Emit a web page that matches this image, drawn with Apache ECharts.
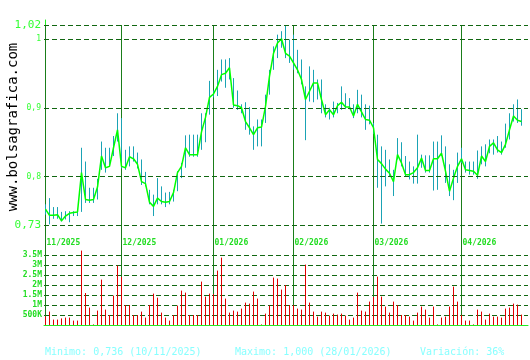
<!DOCTYPE html>
<html><head><meta charset="utf-8">
<script src="https://cdn.jsdelivr.net/npm/echarts@6/dist/echarts.min.js"></script>
<style>html,body{margin:0;padding:0;background:#fff}#c{width:530px;height:360px}</style>
</head><body><div id="c"></div>
<script>
const dates = [
'04/11/2025','05/11/2025','06/11/2025','07/11/2025','10/11/2025','11/11/2025','12/11/2025','13/11/2025','14/11/2025','17/11/2025',
'18/11/2025','19/11/2025','20/11/2025','21/11/2025','24/11/2025','25/11/2025','26/11/2025','27/11/2025','28/11/2025',
'01/12/2025','02/12/2025','03/12/2025','04/12/2025','05/12/2025','08/12/2025','09/12/2025','10/12/2025','11/12/2025','12/12/2025',
'15/12/2025','16/12/2025','17/12/2025','18/12/2025','19/12/2025','22/12/2025','23/12/2025','24/12/2025','25/12/2025','26/12/2025',
'29/12/2025','30/12/2025','31/12/2025',
'02/01/2026','05/01/2026','07/01/2026','08/01/2026','09/01/2026','12/01/2026','13/01/2026','14/01/2026','15/01/2026','16/01/2026',
'19/01/2026','20/01/2026','21/01/2026','22/01/2026','23/01/2026','26/01/2026','27/01/2026','28/01/2026','29/01/2026','30/01/2026',
'02/02/2026','03/02/2026','04/02/2026','05/02/2026','06/02/2026','09/02/2026','10/02/2026','11/02/2026','12/02/2026','13/02/2026',
'16/02/2026','17/02/2026','18/02/2026','19/02/2026','20/02/2026','23/02/2026','24/02/2026','25/02/2026','26/02/2026','27/02/2026',
'02/03/2026','03/03/2026','04/03/2026','05/03/2026','06/03/2026','09/03/2026','10/03/2026','11/03/2026','12/03/2026','13/03/2026',
'16/03/2026','17/03/2026','18/03/2026','19/03/2026','20/03/2026','23/03/2026','24/03/2026','25/03/2026','26/03/2026','27/03/2026',
'30/03/2026','31/03/2026',
'01/04/2026','02/04/2026','06/04/2026','07/04/2026','08/04/2026','09/04/2026','10/04/2026','13/04/2026','14/04/2026','15/04/2026',
'16/04/2026','17/04/2026','20/04/2026','21/04/2026','22/04/2026','23/04/2026'
];
const closes = [
0.753,0.744,0.744,0.745,0.736,0.743,0.747,0.748,0.749,0.806,
0.767,0.766,0.767,0.785,0.830,0.813,0.815,0.842,0.868,0.815,
0.813,0.829,0.826,0.818,0.793,0.790,0.763,0.757,0.769,0.764,
0.763,0.764,0.777,0.806,0.815,0.842,0.832,0.832,0.832,0.865,
0.886,0.915,0.920,0.931,0.948,0.950,0.958,0.904,0.903,0.900,
0.880,0.871,0.861,0.871,0.872,0.902,0.946,0.979,0.994,1.000,
0.979,0.975,0.965,0.955,0.941,0.912,0.924,0.936,0.936,0.912,
0.890,0.897,0.890,0.903,0.908,0.901,0.901,0.888,0.905,0.894,
0.883,0.882,0.871,0.825,0.819,0.811,0.805,0.793,0.832,0.820,
0.803,0.803,0.806,0.813,0.827,0.809,0.809,0.826,0.826,0.834,
0.808,0.779,0.798,0.815,0.826,0.810,0.809,0.808,0.802,0.830,
0.822,0.844,0.849,0.839,0.835,0.847,0.868,0.888,0.882,0.880
];
const highs = [
0.760,0.769,0.756,0.756,0.749,0.750,0.750,0.750,0.750,0.842,
0.822,0.784,0.784,0.797,0.851,0.842,0.842,0.859,0.892,0.885,
0.839,0.844,0.844,0.835,0.825,0.807,0.781,0.774,0.798,0.786,
0.777,0.778,0.781,0.808,0.820,0.860,0.861,0.861,0.861,0.892,
0.892,0.939,0.925,0.955,0.970,0.970,0.972,0.943,0.925,0.905,
0.908,0.901,0.873,0.883,0.883,0.919,0.955,0.989,1.006,1.011,
1.020,0.999,1.006,0.984,0.970,0.931,0.960,0.955,0.941,0.941,
0.905,0.900,0.909,0.907,0.931,0.921,0.914,0.905,0.926,0.919,
0.905,0.903,0.878,0.861,0.844,0.839,0.825,0.810,0.856,0.850,
0.830,0.822,0.815,0.861,0.832,0.831,0.831,0.851,0.851,0.860,
0.844,0.818,0.810,0.835,0.842,0.822,0.822,0.822,0.838,0.844,
0.847,0.854,0.854,0.859,0.851,0.877,0.892,0.905,0.912,0.898
];
const lows = [
0.745,0.731,0.739,0.739,0.735,0.738,0.734,0.743,0.743,0.749,
0.762,0.762,0.762,0.767,0.810,0.806,0.815,0.830,0.851,0.812,
0.810,0.815,0.822,0.812,0.788,0.786,0.760,0.743,0.760,0.760,
0.756,0.760,0.764,0.779,0.798,0.813,0.829,0.829,0.829,0.839,
0.850,0.890,0.915,0.917,0.938,0.929,0.941,0.900,0.897,0.892,
0.868,0.861,0.839,0.844,0.844,0.878,0.919,0.955,0.972,0.987,
0.972,0.965,0.955,0.950,0.934,0.853,0.909,0.908,0.912,0.892,
0.886,0.883,0.886,0.892,0.897,0.898,0.898,0.885,0.892,0.886,
0.868,0.876,0.862,0.784,0.732,0.786,0.800,0.772,0.825,0.815,
0.800,0.796,0.790,0.790,0.813,0.806,0.806,0.780,0.781,0.830,
0.791,0.772,0.766,0.791,0.820,0.806,0.803,0.803,0.797,0.818,
0.815,0.834,0.832,0.835,0.832,0.842,0.854,0.880,0.878,0.874
];
// volume in millions of shares
const volumes = [
0.43,0.67,0.27,0.27,0.33,0.37,0.37,0.22,0.22,3.72,
1.60,0.87,0.03,0.72,2.27,0.77,0.50,1.47,2.97,2.40,
1.00,1.00,0.50,0.50,0.67,0.37,1.00,1.57,1.37,0.62,
0.37,0.22,0.50,0.97,1.72,1.62,0.50,0.50,0.50,2.17,
1.42,1.57,1.55,2.72,3.37,1.32,0.62,0.72,0.67,0.82,
1.12,1.07,1.67,1.32,0.03,0.57,0.97,2.37,2.32,1.77,
2.00,1.00,1.00,0.82,0.77,3.02,1.12,0.67,0.42,0.67,
0.62,0.47,0.57,0.52,0.57,0.47,0.27,0.37,1.62,0.72,
0.67,1.17,1.40,2.42,1.42,0.92,0.62,1.17,1.00,0.50,
0.50,0.42,0.22,0.62,0.92,0.77,0.37,0.92,0.03,0.37,
0.42,0.92,1.92,1.17,0.50,0.22,0.22,0.03,0.77,0.67,
0.27,0.57,0.42,0.42,0.37,0.82,0.87,1.07,1.02,0.52
];
const priceTicks = [0.73, 0.8, 0.9, 1, 1.02];
const priceTickLabels = ['0,73', '0,8', '0,9', '1', '1,02'];
const bigTicks = [0.73, 1.02];
const volumeTicks = [0.5, 1, 1.5, 2, 2.5, 3, 3.5];
const volumeTickLabels = ['500K', '1M', '1.5M', '2M', '2.5M', '3M', '3.5M'];
const statTexts = ['Minimo: 0,736 (10/11/2025)', 'Maximo: 1,000 (28/01/2026)', 'Variación: 36%'];
const watermark = 'www.bolsagrafica.com';

// month starts derived from dates
const monthStarts = [];
dates.forEach((d, i) => {
  const m = d.slice(3);
  if (i === 0 || dates[i - 1].slice(3) !== m) monthStarts.push({ idx: i, label: m });
});

const MONO = '"DejaVu Sans Mono", "Liberation Mono", monospace';
const GREEN = '#22ee22';
const LABEL_GREEN = '#22dd22';
const DASH = '#116611';
const SEP = '#1a7d1a';
const XMIN = -0.375, XMAX = 120.625;

const chart = echarts.init(document.getElementById('c'), null, { renderer: 'canvas' });
const xBase = { type: 'value', min: XMIN, max: XMAX, show: false };

chart.setOption({
  animation: false,
  backgroundColor: '#ffffff',
  grid: [
    { left: 44, right: 2, top: 20, height: 210 },
    { left: 44, right: 2, top: 255, height: 70 },
    { left: 44, right: 2, top: 25, height: 300 }
  ],
  xAxis: [
    Object.assign({ gridIndex: 0 }, xBase),
    { gridIndex: 1, type: 'value', min: XMIN, max: XMAX, show: true,
      axisLine: { show: true, onZero: false, lineStyle: { color: GREEN, width: 1 } },
      axisTick: { show: false }, axisLabel: { show: false }, splitLine: { show: false } },
    Object.assign({ gridIndex: 2 }, xBase)
  ],
  yAxis: [
    { gridIndex: 0, type: 'value', min: 0.72275, max: 1.02725,
      axisLine: { show: true, lineStyle: { color: GREEN, width: 1 } },
      axisTick: { show: false }, splitLine: { show: false },
      axisLabel: {
        customValues: priceTicks, margin: 3,
        formatter: v => {
          const k = priceTicks.findIndex(t => Math.abs(t - v) < 1e-6);
          if (k < 0) return '';
          return (bigTicks.indexOf(priceTicks[k]) >= 0 ? '{b|' : '{s|') + priceTickLabels[k] + '}';
        },
        rich: {
          b: { fontFamily: MONO, fontSize: 11, color: '#33ff33' },
          s: { fontFamily: MONO, fontSize: 8, color: '#33ff33' }
        }
      } },
    { gridIndex: 1, type: 'value', min: 0, max: 3.5, interval: 0.5,
      axisLine: { show: true, lineStyle: { color: GREEN, width: 1 } },
      axisTick: { show: false },
      splitLine: { show: true, lineStyle: { color: DASH, type: [5, 3], width: 1 } },
      axisLabel: {
        margin: 2, fontFamily: MONO, fontSize: 8, fontWeight: 'bold', color: LABEL_GREEN,
        formatter: v => {
          const k = volumeTicks.findIndex(t => Math.abs(t - v) < 1e-6);
          return k < 0 ? '' : volumeTickLabels[k];
        }
      } },
    { gridIndex: 2, type: 'value', min: 0, max: 300, show: false }
  ],
  graphic: [
    { type: 'text', x: 13, y: 127, rotation: Math.PI / 2,
      style: { text: watermark, font: '14px ' + MONO, fill: '#000000', align: 'center', verticalAlign: 'middle' } },
    { type: 'text', x: 45, y: 352, style: { text: statTexts[0], font: '10px ' + MONO, fill: '#88ffff', verticalAlign: 'middle' } },
    { type: 'text', x: 235, y: 352, style: { text: statTexts[1], font: '10px ' + MONO, fill: '#88ffff', verticalAlign: 'middle' } },
    { type: 'text', x: 420, y: 352, style: { text: statTexts[2], font: '10px ' + MONO, fill: '#88ffff', verticalAlign: 'middle' } }
  ],
  series: [
    // month separators and labels
    { type: 'custom', xAxisIndex: 2, yAxisIndex: 2, z: 1, silent: true,
      data: monthStarts.map(m => [m.idx, 0]),
      renderItem: (params, api) => {
        const i = api.value(0);
        const top = api.coord([i, 300]);
        const bot = api.coord([i, 0]);
        const lab = api.coord([i, 82]);
        const x = Math.floor(top[0]) + 0.5;
        return { type: 'group', children: [
          { type: 'line', shape: { x1: x, y1: top[1], x2: x, y2: bot[1] }, style: { stroke: SEP, lineWidth: 1 } },
          { type: 'text', x: x + 1, y: lab[1],
            style: { text: monthStarts[params.dataIndex].label, font: 'bold 8px ' + MONO, fill: LABEL_GREEN, verticalAlign: 'middle', align: 'left' } }
        ] };
      } },
    // high-low bars
    { type: 'custom', xAxisIndex: 0, yAxisIndex: 0, z: 3, silent: true,
      data: closes.map((c, i) => [i, lows[i], highs[i]]),
      renderItem: (params, api) => {
        const a = api.coord([api.value(0), api.value(1)]);
        const b = api.coord([api.value(0), api.value(2)]);
        const x = Math.floor(a[0]) + 0.5;
        return { type: 'line', shape: { x1: x, y1: a[1], x2: x, y2: b[1] }, style: { stroke: '#1aa3b5', lineWidth: 1 } };
      },
      markLine: {
        silent: true, symbol: 'none', label: { show: false },
        lineStyle: { color: DASH, type: [5, 3], width: 1 },
        data: priceTicks.map(v => ({ yAxis: v }))
      } },
    // close line
    { type: 'line', xAxisIndex: 0, yAxisIndex: 0, z: 4, silent: true,
      data: closes.map((c, i) => [i, c]), symbol: 'none', showSymbol: false,
      lineStyle: { color: '#00ff00', width: 1.5 } },
    // volume bars
    { type: 'custom', xAxisIndex: 1, yAxisIndex: 1, z: 3, silent: true,
      data: volumes.map((v, i) => [i, v]),
      renderItem: (params, api) => {
        const a = api.coord([api.value(0), 0]);
        const b = api.coord([api.value(0), api.value(1)]);
        const x = Math.floor(a[0]) + 0.5;
        return { type: 'line', shape: { x1: x, y1: a[1], x2: x, y2: b[1] }, style: { stroke: '#e00000', lineWidth: 1 } };
      } }
  ]
});
</script>
</body></html>
